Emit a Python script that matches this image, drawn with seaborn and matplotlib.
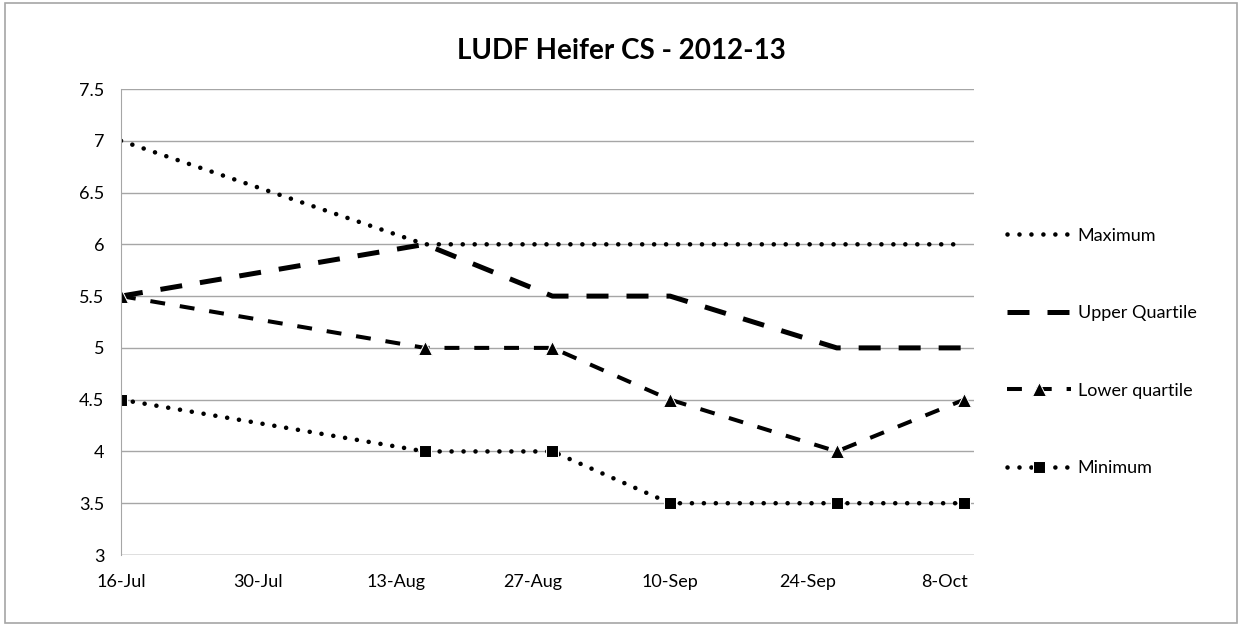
import matplotlib
matplotlib.use("Agg")
import matplotlib.pyplot as plt
import matplotlib.dates as mdates
import seaborn as sns
import pandas as pd

# data
dates = pd.to_datetime(["2012-07-16", "2012-08-16", "2012-08-29",
                        "2012-09-10", "2012-09-27", "2012-10-10"])
maximum = [7, 6, 6, 6, 6, 6]
upper_quartile = [5.5, 6, 5.5, 5.5, 5, 5]
lower_quartile = [5.5, 5, 5, 4.5, 4, 4.5]
minimum = [4.5, 4, 4, 3.5, 3.5, 3.5]
tick_dates = pd.date_range("2012-07-16", "2012-10-08", freq="14D")

sns.set_style("white", {"text.color": "black", "xtick.color": "black",
                        "ytick.color": "black"})
plt.rcParams["font.family"] = ["Lato", "DejaVu Sans"]

fig = plt.figure(figsize=(12.42, 6.26), dpi=100)
ax = fig.add_axes([121 / 1242, 1 - 555 / 626, (974 - 121) / 1242, (555 - 89) / 626])

series = [
    ("Maximum", maximum, dict(linestyle=(0, (0.01, 2.6)), linewidth=3.3,
                              dash_capstyle="round")),
    ("Upper Quartile", upper_quartile, dict(linestyle=(0, (4.4, 3.6)), linewidth=3.6)),
    ("Lower quartile", lower_quartile, dict(linestyle=(0, (3.7, 3.7)), linewidth=2.9,
                                            marker="^", markersize=10)),
    ("Minimum", minimum, dict(linestyle=(0, (0.01, 2.6)), linewidth=3.3,
                              dash_capstyle="round", marker="s", markersize=9)),
]
for name, vals, kw in series:
    sns.lineplot(x=dates, y=vals, ax=ax, color="black", label=name, **kw)

ax.set_ylim(3, 7.5)
ax.set_yticks([3, 3.5, 4, 4.5, 5, 5.5, 6, 6.5, 7, 7.5])
ax.set_yticklabels(["3", "3.5", "4", "4.5", "5", "5.5", "6", "6.5", "7", "7.5"])
ax.set_xlim(pd.Timestamp("2012-07-16"), pd.Timestamp("2012-10-11"))
ax.set_xticks(tick_dates)
ax.xaxis.set_major_formatter(mdates.DateFormatter("%-d-%b"))
ax.set_xlabel("")
ax.set_ylabel("")
ax.grid(axis="y", color="#a6a6a6", linewidth=1)
ax.set_axisbelow(True)
for s in ["top", "right", "bottom"]:
    ax.spines[s].set_visible(False)
ax.spines["left"].set_color("#a6a6a6")
ax.tick_params(axis="x", direction="out", length=6, color="#a6a6a6",
               labelcolor="black", labelsize=13, pad=8)
ax.tick_params(axis="y", direction="out", length=6, color="#a6a6a6",
               labelcolor="black", labelsize=13, pad=6)
ax.axhline(3, color="#a6a6a6", linewidth=1, zorder=0)

leg = ax.legend(loc="center left", bbox_to_anchor=(1.02, 0.436), frameon=False,
                fontsize=13, labelspacing=3.4, handlelength=3.5, handletextpad=0.4)
for t in leg.get_texts():
    t.set_color("black")

fig.suptitle("LUDF Heifer CS - 2012-13", fontsize=20, fontweight="bold",
             y=0.94, color="black")

fig.patches.append(plt.Rectangle((0.004, 0.004), 0.992, 0.992, transform=fig.transFigure,
                                 fill=False, edgecolor="#a6a6a6", linewidth=1.2))
fig.savefig("out.png", dpi=100)
